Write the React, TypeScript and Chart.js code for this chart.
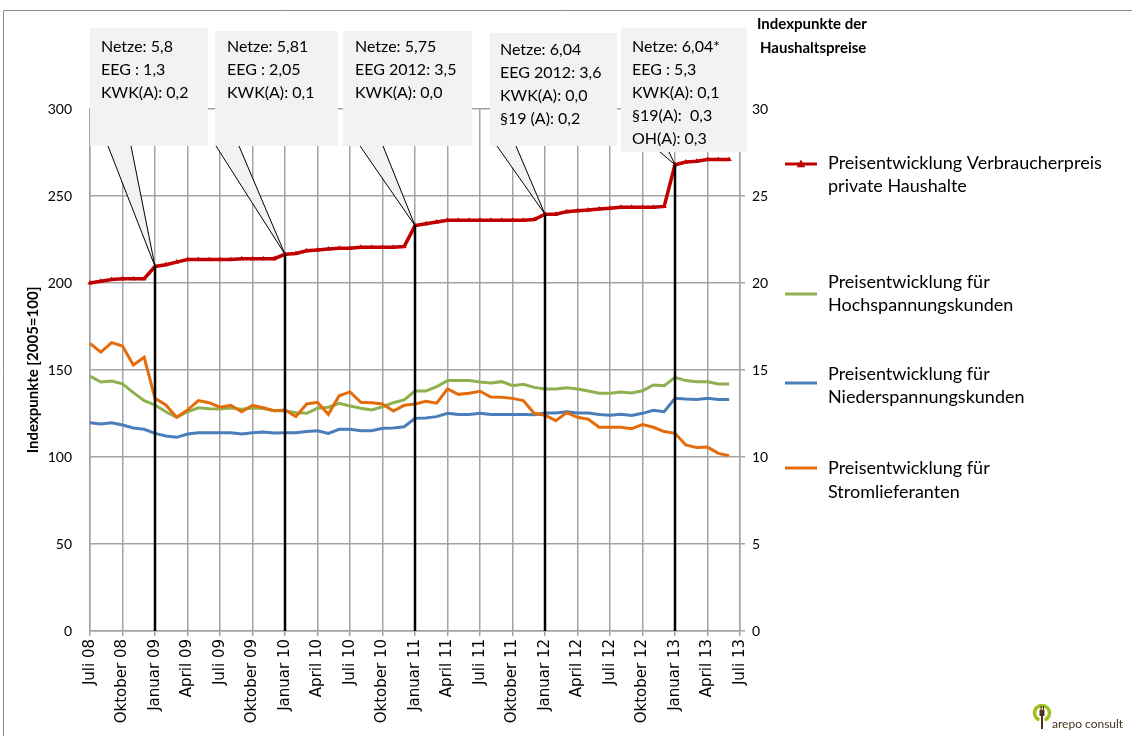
import React, { useEffect, useRef } from 'react';
import { Chart, registerables } from 'chart.js';

Chart.register(...registerables);

// ---------- DATA ----------
const categories = [
  'Juli 08', 'August 08', 'September 08', 'Oktober 08', 'November 08', 'Dezember 08',
  'Januar 09', 'Februar 09', 'März 09', 'April 09', 'Mai 09', 'Juni 09', 'Juli 09', 'August 09', 'September 09', 'Oktober 09', 'November 09', 'Dezember 09',
  'Januar 10', 'Februar 10', 'März 10', 'April 10', 'Mai 10', 'Juni 10', 'Juli 10', 'August 10', 'September 10', 'Oktober 10', 'November 10', 'Dezember 10',
  'Januar 11', 'Februar 11', 'März 11', 'April 11', 'Mai 11', 'Juni 11', 'Juli 11', 'August 11', 'September 11', 'Oktober 11', 'November 11', 'Dezember 11',
  'Januar 12', 'Februar 12', 'März 12', 'April 12', 'Mai 12', 'Juni 12', 'Juli 12', 'August 12', 'September 12', 'Oktober 12', 'November 12', 'Dezember 12',
  'Januar 13', 'Februar 13', 'März 13', 'April 13', 'Mai 13', 'Juni 13', 'Juli 13',
];

const shownTicks = [
  'Juli 08', 'Oktober 08', 'Januar 09', 'April 09', 'Juli 09', 'Oktober 09', 'Januar 10', 'April 10', 'Juli 10', 'Oktober 10',
  'Januar 11', 'April 11', 'Juli 11', 'Oktober 11', 'Januar 12', 'April 12', 'Juli 12', 'Oktober 12', 'Januar 13', 'April 13', 'Juli 13',
];

// right axis (Indexpunkte der Haushaltspreise)
const verbraucherpreisHaushalte = [
  20.0, 20.1, 20.2, 20.25, 20.25, 20.25,
  20.95, 21.05, 21.2, 21.35, 21.35, 21.35, 21.35, 21.35, 21.4, 21.4, 21.4, 21.4,
  21.65, 21.7, 21.85, 21.9, 21.95, 22.0, 22.0, 22.05, 22.05, 22.05, 22.05, 22.1,
  23.3, 23.4, 23.5, 23.6, 23.6, 23.6, 23.6, 23.6, 23.6, 23.6, 23.6, 23.65,
  23.95, 23.95, 24.1, 24.15, 24.2, 24.25, 24.3, 24.35, 24.35, 24.35, 24.35, 24.4,
  26.8, 26.95, 27.0, 27.1, 27.1, 27.1, null,
];

// left axis (Indexpunkte [2005=100])
const hochspannungskunden = [
  146.5, 143.1, 143.7, 142, 137, 132.4,
  129.9, 126, 122.8, 126, 128.3, 127.8, 127.6, 128.2, 127.4, 128.2, 127.8, 126.6,
  126.6, 125.5, 125.1, 128, 128.6, 130.9, 129.3, 128, 127, 128.9, 131.2, 132.8,
  137.9, 137.9, 140.4, 143.9, 143.9, 143.9, 143.1, 142.5, 143.3, 141, 141.8, 140,
  139.1, 139.1, 139.8, 139.1, 137.9, 136.6, 136.6, 137.4, 136.8, 138.1, 141.4, 141,
  145.8, 143.9, 143.3, 143.3, 142, 142, null,
];

const niederspannungskunden = [
  119.7, 119, 119.7, 118.4, 116.7, 115.9,
  113.6, 112.1, 111.3, 113.2, 114, 114, 114, 114, 113.2, 114, 114.4, 113.8,
  114, 114, 114.6, 115.1, 113.6, 115.9, 115.9, 115.1, 115.1, 116.5, 116.7, 117.4,
  122.2, 122.4, 123.2, 125.1, 124.4, 124.4, 125.1, 124.4, 124.4, 124.4, 124.4, 124.3,
  125.3, 125.3, 126, 125.3, 125.3, 124.4, 124, 124.6, 123.8, 125.1, 126.8, 126,
  133.7, 133.3, 133.1, 133.7, 133.1, 133.1, null,
];

const stromlieferanten = [
  165.3, 160.3, 165.7, 163.8, 152.9, 157.3,
  133.7, 129.9, 122.8, 127, 132.4, 131.2, 128.6, 129.7, 126, 129.7, 128.3, 126.6,
  127, 123.2, 130.5, 131.4, 124.5, 135.2, 137.4, 131.4, 131.2, 130.5, 126.4, 129.7,
  130.5, 132, 130.9, 139.1, 136, 136.6, 137.8, 134.5, 134.3, 133.7, 132.4, 125.1,
  124, 120.9, 125.5, 122.8, 121.7, 117.1, 117.1, 117.1, 116.3, 118.6, 117.1, 114.6,
  113.6, 106.9, 105.4, 105.7, 102.1, 100.8, null,
];

const seriesNames = [
  ['Preisentwicklung Verbraucherpreis', 'private Haushalte'],
  ['Preisentwicklung für', 'Hochspannungskunden'],
  ['Preisentwicklung für', 'Niederspannungskunden'],
  ['Preisentwicklung für', 'Stromlieferanten'],
];

const calloutMonths = ['Januar 09', 'Januar 10', 'Januar 11', 'Januar 12', 'Januar 13'];
const calloutTexts = [
  ['Netze: 5,8', 'EEG : 1,3', 'KWK(A): 0,2'],
  ['Netze: 5,81', 'EEG : 2,05', 'KWK(A): 0,1'],
  ['Netze: 5,75', 'EEG 2012: 3,5', 'KWK(A): 0,0'],
  ['Netze: 6,04', 'EEG 2012: 3,6', 'KWK(A): 0,0', '§19 (A): 0,2'],
  ['Netze: 6,04*', 'EEG : 5,3', 'KWK(A): 0,1', '§19(A):  0,3', 'OH(A): 0,3'],
];

const leftAxisTitle = 'Indexpunkte [2005=100]';
const rightAxisTitle = ['Indexpunkte der', 'Haushaltspreise'];
const logoText = 'arepo consult';

// ---------- LAYOUT / STYLE ----------
const W = 1132;
const H = 736;
const FONT = 'Lato, "Open Sans", sans-serif';
const COLORS = ['#C00000', '#8EB04E', '#4A7EBB', '#E46C0A'];
const GRID = '#a3a3a3';

const calloutBoxes = [
  { x: 90, y: 28, w: 118, h: 118, tx: 101, ty: 47, b1: 108, b2: 131 },
  { x: 215, y: 31, w: 123, h: 115, tx: 227, ty: 47, b1: 216, b2: 239 },
  { x: 343, y: 31, w: 129, h: 115, tx: 355, ty: 47, b1: 360, b2: 383 },
  { x: 490, y: 33, w: 127, h: 113, tx: 500, ty: 50, b1: 497, b2: 516 },
  { x: 621, y: 28, w: 126, h: 124, tx: 632, ty: 47, b1: 660, b2: 669 },
];

const legendLayout = [
  { symY: 164, textY: [163, 186] },
  { symY: 294, textY: [282, 305] },
  { symY: 383, textY: [374, 397] },
  { symY: 468, textY: [468, 492] },
];

function drawTriangle(ctx: CanvasRenderingContext2D, x: number, y: number, r: number) {
  ctx.beginPath();
  ctx.moveTo(x, y - r);
  ctx.lineTo(x + r * 0.95, y + r * 0.7);
  ctx.lineTo(x - r * 0.95, y + r * 0.7);
  ctx.closePath();
  ctx.fill();
}

const overlayPlugin = {
  id: 'overlay',
  afterDraw(chart: any) {
    const ctx: CanvasRenderingContext2D = chart.ctx;
    const xs = chart.scales.x;
    const ys = chart.scales.y;
    const y1 = chart.scales.y1;
    ctx.save();

    // frame
    ctx.strokeStyle = '#8c8c8c';
    ctx.lineWidth = 1;
    ctx.beginPath();
    ctx.moveTo(3.5, H);
    ctx.lineTo(3.5, 10.5);
    ctx.lineTo(W, 10.5);
    ctx.stroke();

    // callouts
    calloutMonths.forEach((m, k) => {
      const i = categories.indexOf(m);
      const px = xs.getPixelForValue(i);
      const py = y1.getPixelForValue(verbraucherpreisHaushalte[i]);
      const bottom = ys.getPixelForValue(0);
      ctx.strokeStyle = '#000';
      ctx.lineWidth = 2.5;
      ctx.beginPath();
      ctx.moveTo(px, py);
      ctx.lineTo(px, bottom);
      ctx.stroke();

      const b = calloutBoxes[k];
      const by = b.y + b.h;
      ctx.fillStyle = '#f2f2f2';
      ctx.beginPath();
      ctx.moveTo(b.b1, by - 1);
      ctx.lineTo(px, py);
      ctx.lineTo(b.b2, by - 1);
      ctx.closePath();
      ctx.fill();
      ctx.strokeStyle = '#000';
      ctx.lineWidth = 1;
      ctx.beginPath();
      ctx.moveTo(b.b1, by);
      ctx.lineTo(px, py);
      ctx.lineTo(b.b2, by);
      ctx.stroke();

      ctx.fillStyle = '#f2f2f2';
      ctx.fillRect(b.x, b.y, b.w, b.h);
      ctx.fillStyle = '#000';
      ctx.font = `16px ${FONT}`;
      ctx.textAlign = 'left';
      ctx.textBaseline = 'middle';
      calloutTexts[k].forEach((t, j) => {
        ctx.fillText(t, b.tx, b.ty + j * 23);
      });
    });

    // legend
    seriesNames.forEach((lines, k) => {
      const L = legendLayout[k];
      ctx.strokeStyle = COLORS[k];
      ctx.lineWidth = 3;
      ctx.beginPath();
      ctx.moveTo(785, L.symY);
      ctx.lineTo(817, L.symY);
      ctx.stroke();
      if (k === 0) {
        ctx.fillStyle = COLORS[0];
        drawTriangle(ctx, 801, L.symY, 4.5);
      }
      ctx.fillStyle = '#000';
      ctx.font = `18px ${FONT}`;
      ctx.textAlign = 'left';
      ctx.textBaseline = 'middle';
      lines.forEach((t, j) => ctx.fillText(t, 828, L.textY[j]));
    });

    // axis titles
    ctx.fillStyle = '#000';
    ctx.font = `bold 15px ${FONT}`;
    ctx.textAlign = 'center';
    ctx.textBaseline = 'middle';
    ctx.save();
    ctx.translate(33, (ys.top + ys.bottom) / 2);
    ctx.rotate(-Math.PI / 2);
    ctx.fillText(leftAxisTitle, 0, 0);
    ctx.restore();
    ctx.textAlign = 'left';
    ctx.fillText(rightAxisTitle[0], 757, 24);
    ctx.fillText(rightAxisTitle[1], 760, 48);

    // logo
    ctx.strokeStyle = '#9DC21B';
    ctx.lineWidth = 3.5;
    ctx.beginPath();
    ctx.arc(1042, 713, 7.5, Math.PI * 0.62, Math.PI * 2.38);
    ctx.stroke();
    ctx.fillStyle = '#4B3420';
    ctx.fillRect(1039.5, 710, 5, 6);
    ctx.fillRect(1040.5, 706, 1.2, 4);
    ctx.fillRect(1042.8, 706, 1.2, 4);
    ctx.fillRect(1041, 716, 2, 13);
    ctx.font = `12px ${FONT}`;
    ctx.textAlign = 'left';
    ctx.textBaseline = 'middle';
    ctx.fillText(logoText, 1052, 724);

    ctx.restore();
  },
};

export default function App() {
  const ref = useRef<HTMLCanvasElement | null>(null);

  useEffect(() => {
    if (!ref.current) return;
    const chart = new Chart(ref.current, {
      type: 'line',
      data: {
        labels: categories,
        datasets: [
          {
            label: seriesNames[0].join(' '),
            data: verbraucherpreisHaushalte,
            yAxisID: 'y1',
            borderColor: COLORS[0],
            backgroundColor: COLORS[0],
            borderWidth: 3.5,
            pointStyle: 'triangle',
            pointRadius: 3,
            pointBorderWidth: 0,
            pointBackgroundColor: COLORS[0],
            tension: 0,
          },
          {
            label: seriesNames[1].join(' '),
            data: hochspannungskunden,
            yAxisID: 'y',
            borderColor: COLORS[1],
            borderWidth: 3,
            pointRadius: 0,
            tension: 0,
          },
          {
            label: seriesNames[2].join(' '),
            data: niederspannungskunden,
            yAxisID: 'y',
            borderColor: COLORS[2],
            borderWidth: 3,
            pointRadius: 0,
            tension: 0,
          },
          {
            label: seriesNames[3].join(' '),
            data: stromlieferanten,
            yAxisID: 'y',
            borderColor: COLORS[3],
            borderWidth: 3,
            pointRadius: 0,
            tension: 0,
          },
        ].reverse() as any,
      },
      options: {
        animation: false,
        responsive: false,
        maintainAspectRatio: false,
        layout: { padding: { top: 109, left: 0, right: 0, bottom: 0 } },
        plugins: {
          legend: { display: false },
          title: { display: false },
          tooltip: { enabled: false },
        },
        scales: {
          x: {
            type: 'category',
            offset: false,
            grid: { color: GRID, lineWidth: 1.5, tickLength: 5, drawTicks: true },
            border: { color: GRID, width: 1.5 },
            ticks: {
              autoSkip: false,
              maxRotation: 90,
              minRotation: 90,
              padding: 3,
              color: '#000',
              font: { family: 'DejaVu Sans', size: 15 },
              callback: (_v: any, i: number) => (shownTicks.includes(categories[i]) ? categories[i] : null),
            },
            afterFit: (s: any) => { s.height = 105; },
          },
          y: {
            position: 'left',
            min: 0,
            max: 300,
            grid: { color: GRID, lineWidth: 1.5, drawTicks: false },
            border: { color: GRID, width: 1.5 },
            ticks: { stepSize: 50, padding: 18, color: '#000', font: { family: FONT, size: 14 } },
            afterFit: (s: any) => { s.width = 90; },
          },
          y1: {
            position: 'right',
            min: 0,
            max: 30,
            grid: { drawOnChartArea: false, color: GRID, lineWidth: 1.5, tickLength: 5 },
            border: { color: GRID, width: 1.5 },
            ticks: { stepSize: 5, padding: 7, color: '#000', font: { family: FONT, size: 14 } },
            afterFit: (s: any) => { s.width = 392; },
          },
        },
      },
      plugins: [overlayPlugin],
    });
    return () => chart.destroy();
  }, []);

  return (
    <div style={{ position: 'fixed', left: 0, top: 0, width: W, height: H, background: '#fff' }}>
      <canvas ref={ref} width={W} height={H} style={{ display: 'block', width: W, height: H }} />
    </div>
  );
}
